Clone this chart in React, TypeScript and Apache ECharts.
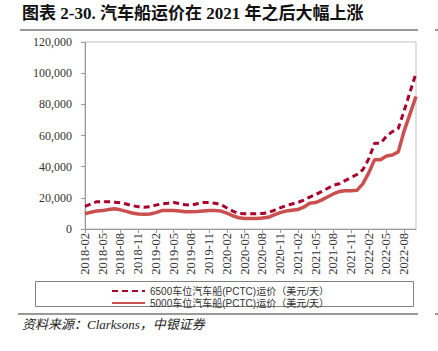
import React, { useEffect, useRef } from "react";
import * as echarts from "echarts";

const months: string[] = [
  "2018-02","2018-03","2018-04","2018-05","2018-06","2018-07","2018-08","2018-09","2018-10","2018-11","2018-12",
  "2019-01","2019-02","2019-03","2019-04","2019-05","2019-06","2019-07","2019-08","2019-09","2019-10","2019-11","2019-12",
  "2020-01","2020-02","2020-03","2020-04","2020-05","2020-06","2020-07","2020-08","2020-09","2020-10","2020-11","2020-12",
  "2021-01","2021-02","2021-03","2021-04","2021-05","2021-06","2021-07","2021-08","2021-09","2021-10","2021-11","2021-12",
  "2022-01","2022-02","2022-03","2022-04","2022-05","2022-06","2022-07","2022-08","2022-09","2022-10",
];

const pctc6500: number[] = [
  14500, 16000, 17500, 17500, 17500, 17200, 16800, 16000, 15000, 14300, 14000,
  14300, 15300, 16200, 16500, 17000, 16300, 15500, 15300, 16200, 17000, 17000, 16500,
  15800, 13500, 11500, 10000, 9800, 9800, 9800, 10000, 10500, 12000, 13500, 15000,
  16000, 17000, 18500, 20500, 22000, 24000, 26000, 28000, 29000, 31000, 33000, 35000,
  38000, 45000, 55000, 55000, 59500, 62500, 64500, 76000, 88000, 100000,
];

const pctc5000: number[] = [
  9800, 10800, 11500, 11800, 12500, 13000, 12300, 11300, 10300, 9600, 9500,
  9600, 10500, 11800, 11800, 11800, 11500, 11000, 11000, 11200, 11500, 11800, 11800,
  11500, 10200, 8500, 7200, 6800, 6800, 6800, 7000, 7500, 9000, 10500, 11500,
  12000, 12500, 14000, 16500, 17000, 18500, 20500, 22500, 24000, 24500, 24500, 24800,
  29000, 36000, 44500, 44500, 46800, 47500, 49500, 63000, 74000, 85000,
];

const seriesNames: string[] = [
  "6500车位汽车船(PCTC)运价（美元/天）",
  "5000车位汽车船(PCTC)运价（美元/天）",
];

const titleText = "图表 2-30. 汽车船运价在 2021 年之后大幅上涨";
const sourceText = "资料来源：Clarksons，中银证券";

const serif = "'Liberation Serif', 'Times New Roman', 'Noto Sans CJK SC', serif";
const sans = "'Liberation Sans', Arial, 'Noto Sans CJK SC', sans-serif";

export default function App() {
  const ref = useRef<HTMLDivElement>(null);
  useEffect(() => {
    if (!ref.current) return;
    const chart = echarts.init(ref.current, null, { renderer: "svg" });
    chart.setOption({
      animation: false,
      backgroundColor: "#fff",
      grid: {
        left: 85,
        right: 22,
        top: 42,
        bottom: 122,
        show: true,
        borderColor: "#BFBFBF",
        borderWidth: 1,
      },
      xAxis: {
        type: "category",
        data: months,
        boundaryGap: false,
        axisLine: { lineStyle: { color: "#999" } },
        axisTick: { interval: 2, length: 4, lineStyle: { color: "#999" } },
        axisLabel: {
          interval: 2,
          rotate: 90,
          margin: 4,
          color: "#333",
          fontFamily: serif,
          fontSize: 12.5,
        },
      },
      yAxis: {
        type: "value",
        min: 0,
        max: 120000,
        interval: 20000,
        splitLine: { show: false },
        axisLine: { show: true, lineStyle: { color: "#999" } },
        axisTick: { show: true, length: 4, lineStyle: { color: "#999" } },
        axisLabel: {
          margin: 13,
          color: "#333",
          fontFamily: serif,
          fontSize: 12,
          formatter: (v: number) => v.toLocaleString("en-US"),
        },
      },
      legend: {
        orient: "vertical",
        left: 106,
        top: 281,
        itemWidth: 33,
        itemHeight: 8,
        itemGap: 2,
        itemStyle: { opacity: 0 },
        textStyle: { fontSize: 10, fontFamily: sans, color: "#333" },
        data: seriesNames,
      },
      series: [
        {
          name: seriesNames[0],
          type: "line",
          data: pctc6500,
          symbol: "none",
          lineStyle: { color: "#A8002B", width: 3, type: [6, 4] },
          itemStyle: { color: "#A8002B" },
        },
        {
          name: seriesNames[1],
          type: "line",
          data: pctc5000,
          symbol: "none",
          lineStyle: { color: "#C9504F", width: 3.5 },
          itemStyle: { color: "#C9504F" },
        },
      ],
      graphic: [
        {
          type: "text",
          left: 22,
          top: 5,
          style: {
            text: titleText,
            font: `bold 17px ${serif}`,
            fill: "#111",
          },
        },
        {
          type: "line",
          shape: { x1: 20, y1: 30, x2: 418, y2: 30 },
          style: { stroke: "#999", lineWidth: 2 },
        },
        {
          type: "line",
          shape: { x1: 435, y1: 30, x2: 438, y2: 30 },
          style: { stroke: "#999", lineWidth: 2 },
        },
        {
          type: "rect",
          shape: { x: 35.5, y: 281.5, width: 378, height: 25 },
          style: { fill: "none", stroke: "#808080", lineWidth: 1 },
        },
        {
          type: "line",
          shape: { x1: 18, y1: 314, x2: 418, y2: 314 },
          style: { stroke: "#999", lineWidth: 2 },
        },
        {
          type: "line",
          shape: { x1: 435, y1: 314, x2: 438, y2: 314 },
          style: { stroke: "#999", lineWidth: 2 },
        },
        {
          type: "text",
          left: 22,
          top: 318,
          style: {
            text: sourceText,
            font: `italic 13px ${serif}`,
            fill: "#222",
          },
        },
      ],
    });
    return () => chart.dispose();
  }, []);
  return <div ref={ref} style={{ width: 438, height: 351, position: "absolute", left: 0, top: 0 }} />;
}
